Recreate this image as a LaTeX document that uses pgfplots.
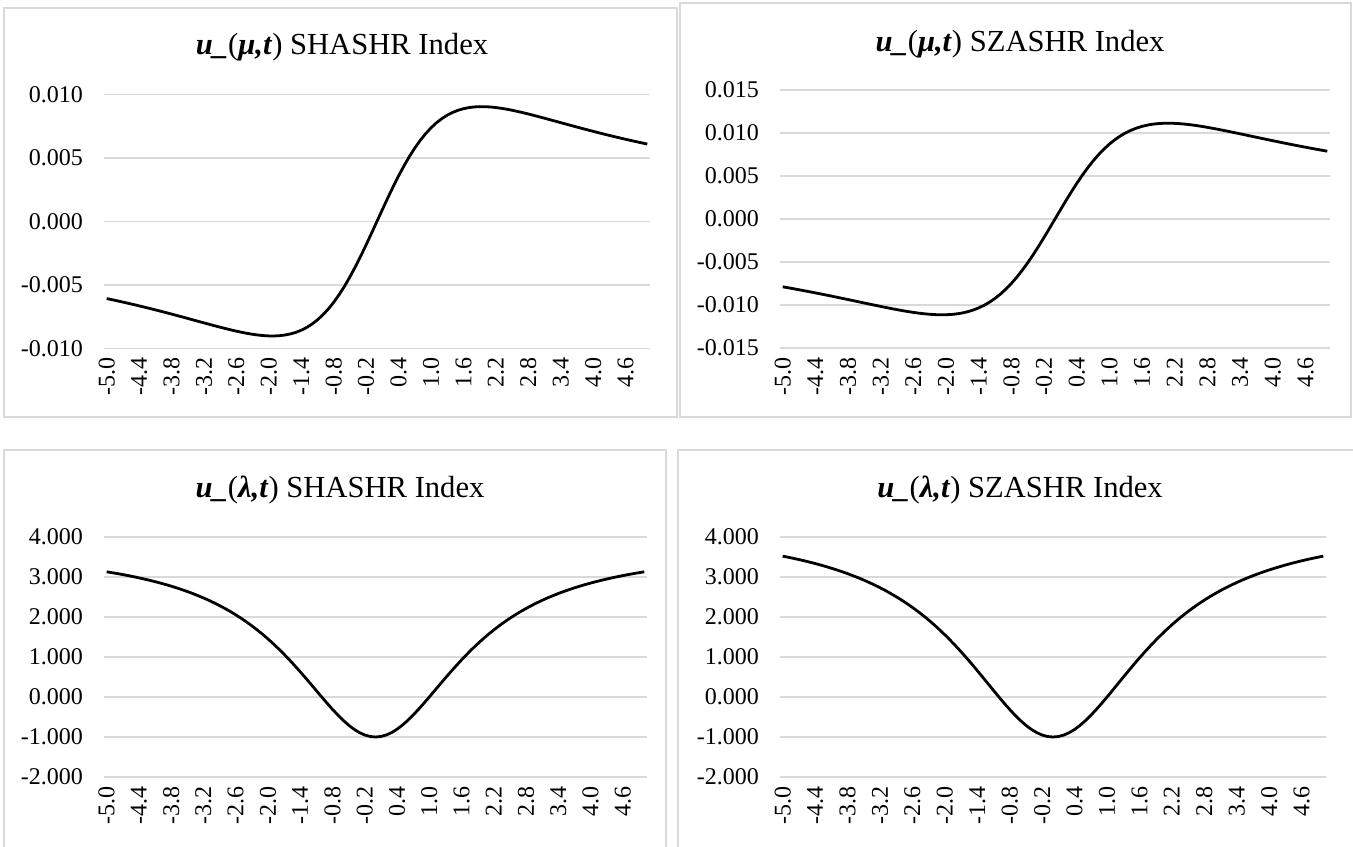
\documentclass[border=0pt]{standalone}
\usepackage{fontspec}
\setmainfont{Liberation Serif}
\usepackage{pgfplots}
\usepackage{pgfplotstable}
\pgfplotsset{compat=1.18}
\definecolor{gridc}{HTML}{D9D9D9}

\pgfplotstableread{
x f1 f2 g1 g2
-5.0 -0.006082 -0.007884 3.130 3.522
-4.9 -0.006173 -0.007996 3.108 3.495
-4.8 -0.006266 -0.008111 3.085 3.466
-4.7 -0.006361 -0.008228 3.061 3.436
-4.6 -0.006458 -0.008347 3.035 3.405
-4.5 -0.006557 -0.008468 3.008 3.372
-4.4 -0.006658 -0.008591 2.979 3.337
-4.3 -0.006761 -0.008717 2.949 3.300
-4.2 -0.006867 -0.008844 2.917 3.261
-4.1 -0.006974 -0.008973 2.884 3.220
-4.0 -0.007083 -0.009103 2.848 3.177
-3.9 -0.007193 -0.009235 2.811 3.132
-3.8 -0.007305 -0.009368 2.771 3.084
-3.7 -0.007419 -0.009502 2.729 3.033
-3.6 -0.007534 -0.009636 2.684 2.980
-3.5 -0.007650 -0.009770 2.637 2.923
-3.4 -0.007766 -0.009904 2.587 2.863
-3.3 -0.007883 -0.010037 2.533 2.800
-3.2 -0.007999 -0.010168 2.477 2.733
-3.1 -0.008114 -0.010296 2.417 2.662
-3.0 -0.008228 -0.010421 2.353 2.586
-2.9 -0.008340 -0.010541 2.285 2.507
-2.8 -0.008448 -0.010655 2.213 2.423
-2.7 -0.008553 -0.010762 2.137 2.334
-2.6 -0.008651 -0.010861 2.055 2.239
-2.5 -0.008743 -0.010948 1.969 2.140
-2.4 -0.008825 -0.011022 1.877 2.035
-2.3 -0.008897 -0.011080 1.780 1.924
-2.2 -0.008956 -0.011120 1.676 1.807
-2.1 -0.009000 -0.011139 1.567 1.683
-2.0 -0.009025 -0.011132 1.452 1.554
-1.9 -0.009028 -0.011097 1.330 1.419
-1.8 -0.009005 -0.011029 1.202 1.277
-1.7 -0.008953 -0.010923 1.067 1.130
-1.6 -0.008867 -0.010775 0.927 0.978
-1.5 -0.008743 -0.010580 0.781 0.821
-1.4 -0.008574 -0.010332 0.630 0.659
-1.3 -0.008357 -0.010027 0.476 0.495
-1.2 -0.008086 -0.009658 0.318 0.330
-1.1 -0.007755 -0.009223 0.159 0.164
-1.0 -0.007362 -0.008717 0.000 0.000
-0.9 -0.006902 -0.008137 -0.156 -0.160
-0.8 -0.006373 -0.007482 -0.308 -0.313
-0.7 -0.005773 -0.006751 -0.451 -0.458
-0.6 -0.005105 -0.005948 -0.584 -0.591
-0.5 -0.004371 -0.005077 -0.703 -0.709
-0.4 -0.003578 -0.004143 -0.806 -0.810
-0.3 -0.002732 -0.003157 -0.889 -0.891
-0.2 -0.001845 -0.002129 -0.950 -0.951
-0.1 -0.000930 -0.001072 -0.987 -0.988
0.0 0.000000 0.000000 -1.000 -1.000
0.1 0.000930 0.001072 -0.987 -0.988
0.2 0.001845 0.002129 -0.950 -0.951
0.3 0.002732 0.003157 -0.889 -0.891
0.4 0.003578 0.004143 -0.806 -0.810
0.5 0.004371 0.005077 -0.703 -0.709
0.6 0.005105 0.005948 -0.584 -0.591
0.7 0.005773 0.006751 -0.451 -0.458
0.8 0.006373 0.007482 -0.308 -0.313
0.9 0.006902 0.008137 -0.156 -0.160
1.0 0.007362 0.008717 0.000 0.000
1.1 0.007755 0.009223 0.159 0.164
1.2 0.008086 0.009658 0.318 0.330
1.3 0.008357 0.010027 0.476 0.495
1.4 0.008574 0.010332 0.630 0.659
1.5 0.008743 0.010580 0.781 0.821
1.6 0.008867 0.010775 0.927 0.978
1.7 0.008953 0.010923 1.067 1.130
1.8 0.009005 0.011029 1.202 1.277
1.9 0.009028 0.011097 1.330 1.419
2.0 0.009025 0.011132 1.452 1.554
2.1 0.009000 0.011139 1.567 1.683
2.2 0.008956 0.011120 1.676 1.807
2.3 0.008897 0.011080 1.780 1.924
2.4 0.008825 0.011022 1.877 2.035
2.5 0.008743 0.010948 1.969 2.140
2.6 0.008651 0.010861 2.055 2.239
2.7 0.008553 0.010762 2.137 2.334
2.8 0.008448 0.010655 2.213 2.423
2.9 0.008340 0.010541 2.285 2.507
3.0 0.008228 0.010421 2.353 2.586
3.1 0.008114 0.010296 2.417 2.662
3.2 0.007999 0.010168 2.477 2.733
3.3 0.007883 0.010037 2.533 2.800
3.4 0.007766 0.009904 2.587 2.863
3.5 0.007650 0.009770 2.637 2.923
3.6 0.007534 0.009636 2.684 2.980
3.7 0.007419 0.009502 2.729 3.033
3.8 0.007305 0.009368 2.771 3.084
3.9 0.007193 0.009235 2.811 3.132
4.0 0.007083 0.009103 2.848 3.177
4.1 0.006974 0.008973 2.884 3.220
4.2 0.006867 0.008844 2.917 3.261
4.3 0.006761 0.008717 2.949 3.300
4.4 0.006658 0.008591 2.979 3.337
4.5 0.006557 0.008468 3.008 3.372
4.6 0.006458 0.008347 3.035 3.405
4.7 0.006361 0.008228 3.061 3.436
4.8 0.006266 0.008111 3.085 3.466
4.9 0.006173 0.007996 3.108 3.495
5.0 0.006082 0.007884 3.130 3.522
}\data

\pgfplotsset{
 panel/.style={
  scale only axis,
  xmin=-5.05, xmax=5.05,
  axis line style={draw=none},
  major tick length=0pt,
  scaled y ticks=false,
  ymajorgrids, grid style={gridc, line width=0.8pt},
  xtick={-5,-4.4,-3.8,-3.2,-2.6,-2,-1.4,-0.8,-0.2,0.4,1,1.6,2.2,2.8,3.4,4,4.6},
  xticklabels={-5.0,-4.4,-3.8,-3.2,-2.6,-2.0,-1.4,-0.8,-0.2,0.4,1.0,1.6,2.2,2.8,3.4,4.0,4.6},
  x tick label style={yshift=-1pt, rotate=90, anchor=east, font=\fontsize{12}{14}\selectfont},
  y tick label style={xshift=-7pt, font=\fontsize{12}{14}\selectfont},
  clip=false,
 },
 curve/.style={black, line width=1.4pt, line join=round, mark=none}
}
\newcommand{\ttl}[2]{\textbf{\textit{u\_}}(\textbf{\textit{#1,t}}) #2 Index}

\begin{document}
\begin{tikzpicture}
\useasboundingbox (0,0) rectangle (676.5pt,-423pt);
% panel borders
\draw[gridc, line width=1pt] (2pt,-4pt) rectangle (338.5pt,-208.5pt);
\draw[gridc, line width=1pt] (340pt,-1.5pt) rectangle (675.5pt,-208.5pt);
\draw[gridc, line width=1pt] (2pt,-430pt) -- (2pt,-225pt) -- (333pt,-225pt) -- (333pt,-430pt);
\draw[gridc, line width=1pt] (339pt,-430pt) -- (339pt,-225pt) -- (680pt,-225pt);

\begin{axis}[panel, at={(52pt,-47.15pt)}, anchor=north west, width=273pt, height=127pt,
  ymin=-0.010, ymax=0.010, ytick={-0.01,-0.005,0,0.005,0.01},
  yticklabels={-0.010,-0.005,0.000,0.005,0.010}]
\addplot[curve] table[x=x, y=f1] {\data};
\end{axis}

\begin{axis}[panel, at={(390pt,-45pt)}, anchor=north west, width=275pt, height=129pt,
  ymin=-0.015, ymax=0.015, ytick={-0.015,-0.01,-0.005,0,0.005,0.01,0.015},
  yticklabels={-0.015,-0.010,-0.005,0.000,0.005,0.010,0.015}]
\addplot[curve] table[x=x, y=f2] {\data};
\end{axis}

\begin{axis}[panel, at={(52pt,-268.5pt)}, anchor=north west, width=271.5pt, height=120pt,
  ymin=-2, ymax=4, ytick={-2,-1,0,1,2,3,4},
  yticklabels={-2.000,-1.000,0.000,1.000,2.000,3.000,4.000}]
\addplot[curve] table[x=x, y=g1] {\data};
\end{axis}

\begin{axis}[panel, at={(390pt,-268.5pt)}, anchor=north west, width=273pt, height=120pt,
  ymin=-2, ymax=4, ytick={-2,-1,0,1,2,3,4},
  yticklabels={-2.000,-1.000,0.000,1.000,2.000,3.000,4.000}]
\addplot[curve] table[x=x, y=g2] {\data};
\end{axis}

\node[font=\fontsize{15.3}{18}\selectfont] at (171pt,-23.5pt) {\ttl{μ}{SHASHR}};
\node[font=\fontsize{15.3}{18}\selectfont] at (510pt,-22pt) {\ttl{μ}{SZASHR}};
\node[font=\fontsize{15.3}{18}\selectfont] at (170pt,-245pt) {\ttl{λ}{SHASHR}};
\node[font=\fontsize{15.3}{18}\selectfont] at (510pt,-245pt) {\ttl{λ}{SZASHR}};
\end{tikzpicture}
\end{document}
